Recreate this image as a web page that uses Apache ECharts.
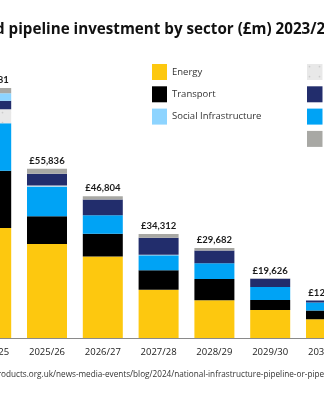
<!DOCTYPE html>
<html>
<head>
<meta charset="utf-8">
<script src="https://cdn.jsdelivr.net/npm/echarts@6/dist/echarts.min.js"></script>
<style>
  html, body { margin: 0; padding: 0; background: #fff; overflow: hidden; }
  #view { position: relative; width: 324px; height: 400px; overflow: hidden; }
  #chart { position: absolute; left: -100px; top: 0; width: 700px; height: 400px; }
</style>
</head>
<body>
<div id="view"><div id="chart"></div></div>
<script>
// Financial years shown on the category axis
const years = ['2024/25', '2025/26', '2026/27', '2027/28', '2028/29', '2029/30', '2030/31'];

// Investment per sector, £m
const energy      = [36300, 31000, 26900, 15900, 12450, 9200, 6200];
const transport   = [18910,  9200,  7500,  6450,  7050, 3330, 2900];
const utilities   = [15640,  9800,  6100,  5000,  5200, 4300, 2650];
const science     = [ 4620,   300,     0,   100,     0,    0,    0];
const housing     = [ 2840,  3900,  5200,  5600,  4180, 2750,  634];
const social      = [ 2440,     0,     0,     0,     0,    0,    0];
const digital     = [ 1731,  1636,  1104,  1262,   802,   46,    0];

// Total per year, printed above each bar
const totals = years.map((_, i) =>
  energy[i] + transport[i] + utilities[i] + science[i] + housing[i] + social[i] + digital[i]);

const titleText = 'Planned pipeline investment by sector (£m) 2023/24 – 2030/31';
const sourceText = 'Source: https://www.mineralproducts.org.uk/news-media-events/blog/2024/national-infrastructure-pipeline-or-pipe-dream';

const OFF = 100; // horizontal offset of the drawing inside the viewport

// Width of a string as ECharts itself lays it out
function textWidth(str, font) {
  const t = new echarts.graphic.Text({ style: { text: str, font: font } });
  return t.getBoundingRect().width;
}
const titleFont = 'bold 15.2px "Open Sans"';
const titleX = OFF - 5 - textWidth('Planne', titleFont);
const sourceFont = '8.2px "Open Sans"';
const sourceX = OFF + 1 - textWidth('Source: https://www.mineralpr', sourceFont);

const fmt = v => '£' + v.toLocaleString('en-GB');

const chart = echarts.init(document.getElementById('chart'), null, { renderer: 'canvas' });

const barBase = { type: 'bar', stack: 'total', barWidth: 40 };

const legendText = { color: '#333', fontFamily: 'Open Sans', fontSize: 9.5 };

chart.setOption({
  animation: false,
  backgroundColor: '#ffffff',
  grid: { left: OFF - 36.7, width: 390.6, top: 65.3, bottom: 62 },
  xAxis: {
    type: 'category',
    data: years,
    axisLine: { lineStyle: { color: '#8a8a8a', width: 1 } },
    axisTick: { show: false },
    axisLabel: { color: '#222', fontFamily: 'Open Sans', fontSize: 9.5, margin: 9 }
  },
  yAxis: { type: 'value', min: 0, max: 90000, show: false, splitLine: { show: false } },
  legend: [
    {
      left: OFF + 152, top: 64, orient: 'vertical', padding: 0,
      itemWidth: 15, itemHeight: 16, itemGap: 6.3,
      icon: 'rect', textStyle: legendText,
      data: ['Energy', 'Transport', 'Social Infrastructure']
    },
    {
      left: OFF + 307, top: 64, orient: 'vertical', padding: 0,
      itemWidth: 15.5, itemHeight: 16, itemGap: 6.3,
      icon: 'rect', textStyle: legendText,
      data: ['Science and Research', 'Housing and Regeneration', 'Utilities', 'Digital']
    }
  ],
  graphic: [
    {
      type: 'text', x: titleX, y: 29.5,
      style: { text: titleText, font: titleFont, fill: '#111', textAlign: 'left', textVerticalAlign: 'middle' }
    },
    {
      type: 'text', x: sourceX, y: 375,
      style: { text: sourceText, font: sourceFont, fill: '#333', textAlign: 'left', textVerticalAlign: 'middle' }
    }
  ],
  series: [
    { ...barBase, name: 'Energy', data: energy, itemStyle: { color: '#FDC80F' } },
    { ...barBase, name: 'Transport', data: transport, itemStyle: { color: '#000000' } },
    { ...barBase, name: 'Utilities', data: utilities, itemStyle: { color: '#00A3F5' } },
    { ...barBase, name: 'Science and Research', data: science,
      itemStyle: { color: '#E8E8E8',
        decal: { symbol: 'circle', symbolSize: 0.35, color: 'rgba(170,170,170,0.45)', dashArrayX: 5, dashArrayY: 5 } } },
    { ...barBase, name: 'Housing and Regeneration', data: housing, itemStyle: { color: '#222D6C' } },
    { ...barBase, name: 'Social Infrastructure', data: social, itemStyle: { color: '#8DD4FF' } },
    { ...barBase, name: 'Digital', data: digital, itemStyle: { color: '#A8A8A4' },
      label: {
        show: true, position: 'top', distance: 3,
        formatter: p => fmt(totals[p.dataIndex]),
        color: '#1a1a1a', fontFamily: 'Lato', fontWeight: 'bold', fontSize: 9.5
      }
    }
  ]
});
</script>
</body>
</html>
